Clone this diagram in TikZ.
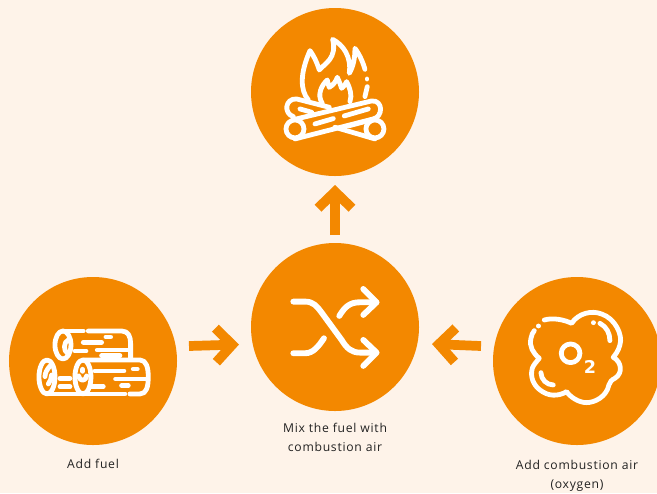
\documentclass[tikz,border=0pt]{standalone}
\usepackage{fontspec}
\setmainfont[LetterSpace=6]{Open Sans}
\newfontfamily\subfont{DejaVu Sans}
\usetikzlibrary{arrows.meta,calc}
\definecolor{paper}{HTML}{FEF3E9}
\definecolor{flame}{HTML}{F38800}
\definecolor{ink}{HTML}{222222}

\begin{document}
\begin{tikzpicture}[x=0.03cm,y=-0.03cm,
 disc/.style={circle,fill=flame,inner sep=0pt,minimum size=5.04cm},
 caption/.style={text=ink,align=center,font=\fontsize{10.4pt}{16pt}\selectfont,inner sep=0pt},
 icon line/.style={draw=white,line width=4.1pt,line cap=round,line join=round},
 flow arrow/.style={draw=flame,line width=8.3pt,-{Straight Barb[length=14pt,width=29pt,line width=8.3pt]}}]

    \fill[paper] (0,0) rectangle (657,493);
    \useasboundingbox (0,0) rectangle (657,493);

    \node[disc] (fire) at (335,92) {};
    \node[disc] (mix) at (335,327) {};
    \node[disc] (fuel) at (93,361) {};
    \node[disc] (air) at (577,361) {};

    \node[caption] (fuellabel) at (93,464) {Add fuel};
    \node[caption] (mixlabel) at (335,437.5) {Mix the fuel with\\combustion air};
    \node[caption] (airlabel) at (577,475.5) {Add combustion air\\(oxygen)};

    \coordinate (fuelout) at (189,346);
    \coordinate (mixleft) at (239,344.5);
    \coordinate (airout) at (481,346);
    \coordinate (mixright) at (432,344);
    \coordinate (mixout) at (335,235);
    \coordinate (firein) at (335,185);

    \draw[flow arrow] (fuelout) -- (mixleft);
    \draw[flow arrow] (airout) -- (mixright);
    \draw[flow arrow] (mixout) -- (firein);

    % campfire
    \begin{scope}[shift={(250,0)},x=0.01cm,y=-0.01cm]
	\draw[icon line] (175,300) .. controls (150,270) and (150,220) .. (180,152)
	    .. controls (190,165) and (200,185) .. (208,210)
	    .. controls (225,190) and (262,175) .. (248,118)
	    .. controls (280,135) and (305,170) .. (298,220)
	    .. controls (310,200) and (315,175) .. (315,145)
	    .. controls (330,165) and (340,190) .. (345,208);
	\draw[icon line] (351,237) -- (351,237.1);
	\draw[icon line] (352,260) -- (345,290);
	\draw[icon line] (217,310) .. controls (200,285) and (215,255) .. (232,240)
	    .. controls (233,250) and (236,255) .. (238,262)
	    .. controls (250,255) and (258,245) .. (262,232)
	    .. controls (268,245) and (272,255) .. (275,265)
	    .. controls (282,260) and (287,252) .. (290,245)
	    .. controls (298,260) and (308,285) .. (300,305);
	\draw[icon line] (135,417) -- (370,357) .. controls (400,350) and (400,300) .. (365,303) -- (135,358);
	\draw[icon line] (135,387) circle (27);
	\draw[icon line] (195,372) -- (250,356);
	\draw[icon line] (283,348) -- (355,327);
	\draw[icon line] (238,322) -- (140,297) .. controls (105,295) and (100,340) .. (130,350);
	\draw[icon line] (150,327) -- (185,337);
	\draw[icon line] (255,382) -- (375,417);
	\draw[icon line] (295,378) -- (375,357);
	\draw[icon line] (375,387) circle (27);
    \end{scope}

    % logs
    \begin{scope}[shift={(0,280)},x=0.01cm,y=-0.01cm]
	\draw[icon line] (189,195) ellipse (24 and 42);
	\draw[icon line] (205,180) .. controls (190,185) and (190,215) .. (203,220);
	\draw[icon line] (190,153) -- (250,153);
	\draw[icon line] (265,153) -- (365,153) .. controls (385,153) and (392,170) .. (392,190) -- (392,235);
	\draw[icon line] (250,187) -- (305,187);
	\draw[icon line] (318,171) -- (332,171);
	\draw[icon line] (225,213) -- (258,213);
	\draw[icon line] (292,210) -- (383,210);
	\draw[icon line] (305,227) -- (360,227);
	\draw[icon line] (141,291) ellipse (24 and 51);
	\draw[icon line] (150,258) .. controls (140,270) and (135,280) .. (135,290);
	\draw[icon line] (155,285) .. controls (155,295) and (150,305) .. (145,312);
	\draw[icon line] (249,291) ellipse (24 and 51);
	\draw[icon line] (249,240) -- (420,240) .. controls (440,240) and (445,265) .. (445,290)
	    .. controls (445,320) and (440,342) .. (420,342) -- (390,342);
	\draw[icon line] (141,342) -- (375,342);
	\draw[icon line] (285,273) -- (372,273);
	\draw[icon line] (400,267) -- (412,267);
	\draw[icon line] (347,297) -- (440,297);
	\draw[icon line] (365,317) -- (385,317);
	\draw[icon line] (272,320) -- (310,320);
	\draw[icon line] (180,295) -- (210,295);
	\draw[icon line] (180,320) -- (210,320);
	\draw[icon line] (236,288) .. controls (238,305) and (258,305) .. (260,288);
	\draw[icon line] (248,268) -- (248,274);
    \end{scope}

    % shuffle
    \begin{scope}[shift={(250,180)},x=0.01cm,y=-0.01cm,icon line/.append style={line width=5pt}]
	\draw[icon line] (130,365) -- (165,365) .. controls (190,365) and (200,378) .. (215,398)
	    -- (275,480) .. controls (290,505) and (305,518) .. (330,518) -- (378,518);
	\draw[icon line] (340,327) -- (380,367) -- (340,405);
	\draw[icon line] (340,480) -- (380,518) -- (340,558);
	\draw[icon line] (130,520) -- (165,520) .. controls (190,520) and (205,500) .. (222,475);
	\draw[icon line] (268,408) .. controls (285,380) and (300,367) .. (330,367) -- (378,367);
    \end{scope}

    % oxygen
    \begin{scope}[shift={(425,280)},x=0.01cm,y=-0.01cm]
	\draw[icon line] (358,120) .. controls (385,112) and (420,120) .. (440,130)
	    .. controls (460,100) and (500,90) .. (530,102)
	    .. controls (570,115) and (595,165) .. (585,195)
	    .. controls (580,215) and (570,225) .. (565,232)
	    .. controls (590,245) and (595,280) .. (570,295)
	    .. controls (560,300) and (555,305) .. (552,315)
	    .. controls (545,350) and (510,368) .. (485,368)
	    .. controls (460,368) and (435,350) .. (425,335)
	    .. controls (400,350) and (370,350) .. (345,330)
	    .. controls (325,315) and (315,290) .. (322,265)
	    .. controls (325,255) and (335,245) .. (343,235)
	    .. controls (325,220) and (312,200) .. (318,175)
	    .. controls (320,165) and (323,158) .. (328,152);
	\draw[icon line] (340,138) -- (340,138.1);
	\draw[icon line] (505,128) -- (505,128.1);
	\draw[icon line] (525,130) .. controls (545,140) and (555,160) .. (555,182);
	\draw[icon line] (348,278) .. controls (348,298) and (365,315) .. (385,315);
	\draw[icon line] (437,220) circle (28);
	\node[text=white,font=\fontsize{15pt}{15pt}\subfont\bfseries\selectfont,inner sep=0pt] (two) at (495,261) {2};
    \end{scope}

\end{tikzpicture}
\end{document}
